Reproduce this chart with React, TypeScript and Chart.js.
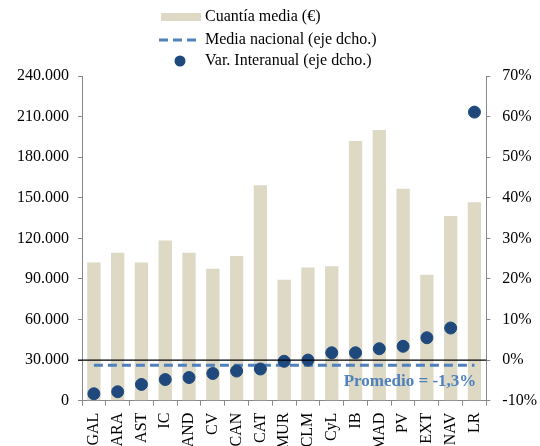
import React, { useEffect, useRef } from "react";
import { Chart, registerables } from "chart.js";

Chart.register(...registerables);

const categories = ["GAL", "ARA", "AST", "IC", "AND", "CV", "CAN", "CAT", "MUR", "CLM", "CyL", "IB", "MAD", "PV", "EXT", "NAV", "LR"];
const cuantiaMedia = [102100, 109300, 102100, 118400, 109300, 97500, 106900, 159300, 89400, 98500, 99400, 192000, 200100, 156600, 93000, 136600, 146700];
const varInteranual = [-8.3, -7.8, -6.0, -4.8, -4.3, -3.3, -2.7, -2.2, -0.3, 0.0, 1.8, 1.8, 2.8, 3.4, 5.5, 7.9, 61.1];
const mediaNacionalValue = -1.3;
const mediaNacional = categories.map(() => mediaNacionalValue);
const legendLabels = ["Cuantía media (€)", "Media nacional (eje dcho.)", "Var. Interanual (eje dcho.)"];
const promedioLabel = "Promedio = -1,3%";

const BAR = "#ddd9c4";
const DOT = "#1f497d";
const DASH = "#4f81bd";
const FONT = "'Liberation Serif', 'Times New Roman', serif";

const overlayPlugin = {
  id: "overlay",
  afterDatasetsDraw(chart: any) {
    const { ctx, chartArea, scales } = chart;
    const y1 = scales.y1;
    ctx.save();
    const yz = y1.getPixelForValue(0);
    ctx.strokeStyle = "#000";
    ctx.lineWidth = 1.3;
    ctx.beginPath();
    ctx.moveTo(chartArea.left - 4, yz);
    ctx.lineTo(chartArea.right, yz);
    ctx.stroke();
    ctx.fillStyle = DASH;
    ctx.font = `bold 17px ${FONT}`;
    ctx.textAlign = "right";
    ctx.textBaseline = "middle";
    ctx.fillText(promedioLabel, chartArea.right - 10, y1.getPixelForValue(-5.3));
    ctx.restore();
  },
  afterDraw(chart: any) {
    const { ctx } = chart;
    ctx.save();
    ctx.font = `16px ${FONT}`;
    ctx.textAlign = "left";
    ctx.textBaseline = "middle";
    const tx = 205;
    const rows = [17, 40, 61];
    ctx.fillStyle = BAR;
    ctx.fillRect(161, rows[0] - 4, 40, 8);
    ctx.strokeStyle = DASH;
    ctx.lineWidth = 3;
    ctx.setLineDash([9, 5]);
    ctx.beginPath();
    ctx.moveTo(159, rows[1]);
    ctx.lineTo(198, rows[1]);
    ctx.stroke();
    ctx.setLineDash([]);
    ctx.fillStyle = DOT;
    ctx.beginPath();
    ctx.arc(180, rows[2], 5.5, 0, Math.PI * 2);
    ctx.fill();
    ctx.fillStyle = "#000";
    legendLabels.forEach((t, i) => ctx.fillText(t, tx, rows[i]));
    ctx.restore();
  },
};

export default function App() {
  const ref = useRef<HTMLCanvasElement>(null);
  useEffect(() => {
    if (!ref.current) return;
    const chart = new Chart(ref.current, {
      type: "bar",
      data: {
        labels: categories,
        datasets: [
          {
            type: "scatter" as any,
            label: legendLabels[2],
            data: varInteranual as any,
            yAxisID: "y1",
            backgroundColor: DOT,
            borderColor: DOT,
            pointRadius: 6,
            pointHoverRadius: 6,
            showLine: false,
            order: 0,
          },
          {
            type: "line" as any,
            label: legendLabels[1],
            data: mediaNacional as any,
            yAxisID: "y1",
            borderColor: DASH,
            borderWidth: 3,
            borderDash: [9, 5],
            pointRadius: 0,
            fill: false,
            order: 1,
          },
          {
            type: "bar",
            label: legendLabels[0],
            data: cuantiaMedia,
            yAxisID: "y",
            backgroundColor: BAR,
            barPercentage: 0.56,
            categoryPercentage: 1.0,
            order: 2,
          },
        ],
      },
      options: {
        animation: false,
        responsive: false,
        maintainAspectRatio: false,
        layout: { padding: { top: 76, left: 8, right: -9, bottom: -11 } },
        plugins: { legend: { display: false }, tooltip: { enabled: false } },
        scales: {
          x: {
            type: "category",
            offset: true,
            grid: { offset: true, drawOnChartArea: false, drawTicks: true, tickLength: 5, tickColor: "#888" },
            border: { color: "#888" },
            ticks: { color: "#000", font: { family: FONT, size: 16 }, maxRotation: 90, minRotation: 90, padding: 7, autoSkip: false },
          },
          y: {
            position: "left",
            min: 0,
            max: 240000,
            grid: { drawOnChartArea: false, tickLength: 4, tickColor: "#888" },
            border: { color: "#888" },
            ticks: {
              stepSize: 30000,
              color: "#000",
              font: { family: FONT, size: 16 },
              padding: 9,
              callback: (v: any) => Number(v).toLocaleString("de-DE"),
            },
          },
          y1: {
            position: "right",
            min: -10,
            max: 70,
            grid: { drawOnChartArea: false, tickLength: 4, tickColor: "#888" },
            border: { color: "#888" },
            ticks: { stepSize: 10, color: "#000", font: { family: FONT, size: 16 }, padding: 12, callback: (v: any) => `${v}%` },
          },
        },
      },
      plugins: [overlayPlugin],
    });
    return () => chart.destroy();
  }, []);
  return (
    <div style={{ position: "absolute", left: 0, top: 0, width: 540, height: 446, background: "#fff" }}>
      <canvas ref={ref} width={540} height={446} style={{ width: 540, height: 446 }} />
    </div>
  );
}
